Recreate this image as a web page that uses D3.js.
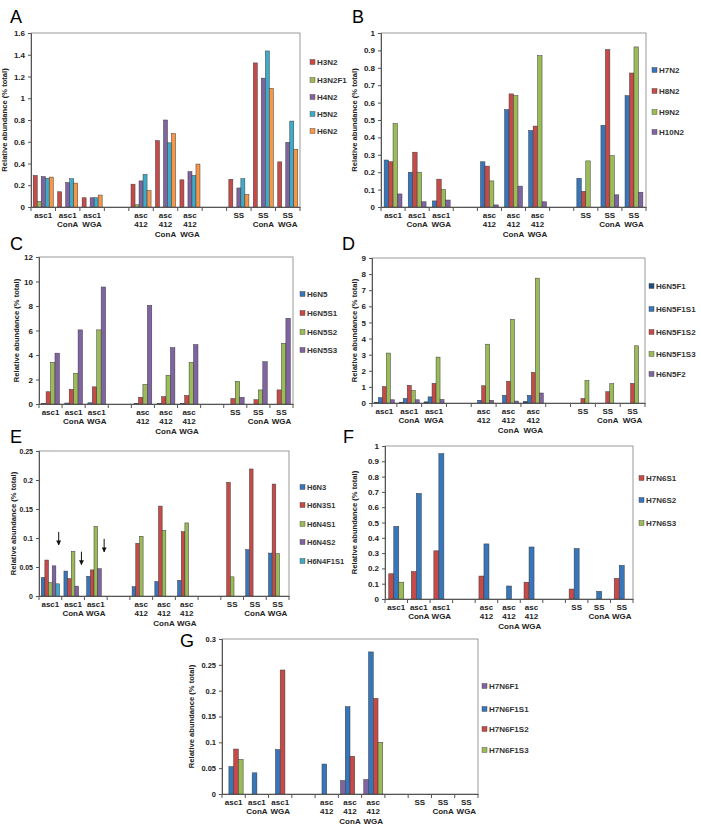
<!DOCTYPE html>
<html><head><meta charset="utf-8">
<script src="https://cdn.jsdelivr.net/npm/d3@7"></script>
<style>body{margin:0;background:#fff} text{font-family:"Liberation Sans",Arial,sans-serif}</style>
</head><body><svg id="c" width="701" height="830"></svg>
<script>
// ---------- data ----------
const categories = ["asc1","asc1 ConA","asc1 WGA","gap1","asc 412","asc 412 ConA","asc 412 WGA","gap2","SS","SS ConA","SS WGA"];
const categoryLines = [["asc1"],["asc1","ConA"],["asc1","WGA"],[],["asc","412"],["asc","412","ConA"],["asc","412","WGA"],[],["SS"],["SS","ConA"],["SS","WGA"]];
const samples = ["asc1","asc1 ConA","asc1 WGA","asc 412","asc 412 ConA","asc 412 WGA","SS","SS ConA","SS WGA"];

// Panel A
const seriesA = ["H3N2","H3N2F1","H4N2","H5N2","H6N2"];
const H3N2   = [0.29,0.14,0.085,0.21,0.61,0.25,0.255,1.325,0.415];
const H3N2F1 = [0.05,0,0,0.02,0,0,0,0,0];
const H4N2   = [0.28,0.225,0.085,0.24,0.80,0.325,0.175,1.185,0.595];
const H5N2   = [0.265,0.26,0.085,0.30,0.59,0.29,0.26,1.435,0.79];
const H6N2   = [0.275,0.22,0.11,0.15,0.675,0.395,0.115,1.09,0.53];
const ticksA = [0,0.2,0.4,0.6,0.8,1,1.2,1.4,1.6];

// Panel B
const seriesB = ["H7N2","H8N2","H9N2","H10N2"];
const H7N2  = [0.27,0.20,0.035,0.26,0.56,0.44,0.165,0.47,0.64];
const H8N2  = [0.26,0.315,0.16,0.235,0.65,0.465,0.09,0.905,0.77];
const H9N2  = [0.48,0.20,0.10,0.15,0.64,0.87,0.265,0.295,0.92];
const H10N2 = [0.075,0.03,0.04,0.012,0.12,0.03,0,0.07,0.085];
const ticksB = [0,0.1,0.2,0.3,0.4,0.5,0.6,0.7,0.8,0.9,1];

// Panel C
const seriesC = ["H6N5","H6N5S1","H6N5S2","H6N5S3"];
const H6N5   = [0.05,0.08,0.1,0.05,0.05,0.05,0,0,0];
const H6N5S1 = [1.0,1.2,1.4,0.55,0.6,0.7,0.45,0.35,1.15];
const H6N5S2 = [3.4,2.5,6.05,1.6,2.35,3.4,1.85,1.15,4.95];
const H6N5S3 = [4.15,6.05,9.55,8.05,4.6,4.85,0.55,3.45,7.0];
const ticksC = [0,2,4,6,8,10,12];

// Panel D
const seriesD = ["H6N5F1","H6N5F1S1","H6N5F1S2","H6N5F1S3","H6N5F2"];
const H6N5F1   = [0.05,0.05,0.07,0,0,0.1,0,0,0];
const H6N5F1S1 = [0.33,0.28,0.38,0.17,0.48,0.48,0,0,0];
const H6N5F1S2 = [1.02,1.1,1.22,1.07,1.35,1.9,0.28,0.7,1.22];
const H6N5F1S3 = [3.1,0.78,2.85,3.65,5.2,7.75,1.4,1.2,3.55];
const H6N5F2   = [0.2,0.2,0.22,0.17,0.12,0.62,0,0,0];
const ticksD = [0,1,2,3,4,5,6,7,8,9];

// Panel E
const seriesE = ["H6N3","H6N3S1","H6N4S1","H6N4S2","H6N4F1S1"];
const H6N3     = [0.032,0.043,0.034,0.016,0.025,0.027,0,0.08,0.074];
const H6N3S1   = [0.062,0.030,0.045,0.091,0.155,0.111,0.196,0.219,0.193];
const H6N4S1   = [0.023,0.077,0.12,0.103,0.113,0.126,0.033,0,0.073];
const H6N4S2   = [0.052,0.017,0.047,0,0,0,0,0,0];
const H6N4F1S1 = [0.021,0,0,0,0,0,0,0,0];
const ticksE = [0,0.05,0.1,0.15,0.2,0.25];
const arrowSamples = ["asc1","asc1 ConA","asc1 WGA"];
const arrowTips = [0.088,0.054,0.076];

// Panel F
const seriesF = ["H7N6S1","H7N6S2","H7N6S3"];
const H7N6S1 = [0.165,0.18,0.315,0.15,0,0.11,0.065,0,0.135];
const H7N6S2 = [0.475,0.69,0.95,0.36,0.085,0.34,0.33,0.05,0.22];
const H7N6S3 = [0.11,0,0,0,0,0,0,0,0];
const ticksF = [0,0.1,0.2,0.3,0.4,0.5,0.6,0.7,0.8,0.9,1];

// Panel G
const seriesG = ["H7N6F1","H7N6F1S1","H7N6F1S2","H7N6F1S3"];
const H7N6F1   = [0,0,0,0,0.026,0.028,0,0,0];
const H7N6F1S1 = [0.053,0.041,0.086,0.058,0.169,0.275,0,0,0];
const H7N6F1S2 = [0.087,0,0.24,0,0.073,0.185,0,0,0];
const H7N6F1S3 = [0.067,0,0,0,0,0.1,0,0,0];
const ticksG = [0,0.05,0.1,0.15,0.2,0.25,0.3];

const yTitle = "Relative abundance (% total)";

// ---------- styles ----------
const RED="#C64B48", GREEN="#9BBB59", PURPLE="#8064A2", TEAL="#3FABC8", ORANGE="#F79646", BLUE="#3776BA", DKBLUE="#1F4E79";

const svg = d3.select("#c");

function panel(cfg){
  const fs = cfg.fs || 8;
  const g = svg.append("g");
  const y = d3.scaleLinear().domain([0, d3.max(cfg.ticks)]).range([cfg.y1, cfg.y0]);
  const x = d3.scaleBand().domain(categories).range([cfg.x0, cfg.x1]).paddingInner(0).paddingOuter(0);
  const xs = d3.scaleBand().domain(cfg.series).range([0, x.bandwidth()]).paddingInner(0).paddingOuter(cfg.po);

  g.append("rect").attr("x",cfg.x0).attr("y",cfg.y0).attr("width",cfg.x1-cfg.x0).attr("height",cfg.y1-cfg.y0)
    .attr("fill","none").attr("stroke","#808080").attr("stroke-width",0.8);

  cfg.series.forEach((s,si)=>{
    const vals = cfg.values[si];
    const data = samples.map((c,i)=>({c, v: vals[i]})).filter(d=>d.v>0);
    g.selectAll(null).data(data).enter().append("rect")
      .attr("x", d=>x(d.c)+xs(s))
      .attr("y", d=>y(d.v))
      .attr("width", xs.bandwidth())
      .attr("height", d=>y(0)-y(d.v))
      .attr("fill", cfg.colors[si])
      .attr("stroke", "#3a3a3a").attr("stroke-width", 0.5);
  });

  const fmt = v => String(+v.toFixed(2));
  const ya = g.append("g").attr("transform",`translate(${cfg.x0},0)`)
    .call(d3.axisLeft(y).tickValues(cfg.ticks).tickSize(3).tickPadding(3).tickFormat(fmt));
  ya.select(".domain").attr("stroke","#555");
  ya.selectAll(".tick line").attr("stroke","#555");
  ya.selectAll("text").attr("font-size",fs).attr("font-weight","bold").attr("fill","#222")
    .attr("font-family",'"Liberation Sans",Arial,sans-serif');

  const xa = g.append("g").attr("transform",`translate(0,${cfg.y1})`)
    .call(d3.axisBottom(x).tickSize(0).tickFormat(""));
  xa.select(".domain").attr("stroke","#555");
  const bounds = categories.map(c=>x(c)).concat([cfg.x1]);
  g.selectAll(null).data(bounds).enter().append("line")
    .attr("x1",d=>d).attr("x2",d=>d).attr("y1",cfg.y1).attr("y2",cfg.y1+4).attr("stroke","#555");
  categories.forEach((c,i)=>{
    const t = g.append("text").attr("text-anchor","middle").attr("font-size",8).attr("font-weight","bold")
      .attr("fill","#222").attr("x", x(c)+x.bandwidth()/2).attr("y", cfg.y1+11);
    categoryLines[i].forEach((ln,j)=>{
      t.append("tspan").attr("x", x(c)+x.bandwidth()/2).attr("dy", j===0?0:9.3).text(ln);
    });
  });

  g.append("text").attr("transform",`translate(${cfg.titleX},${(cfg.y0+cfg.y1)/2}) rotate(-90)`)
    .attr("text-anchor","middle").attr("font-size",7.6).attr("font-weight","bold").attr("fill","#222").text(yTitle);

  g.append("text").attr("x",cfg.lx).attr("y",cfg.ly).attr("font-size",18).attr("fill","#000").text(cfg.letter);

  cfg.series.forEach((s,si)=>{
    const ly = cfg.legY[si];
    g.append("rect").attr("x",cfg.legX).attr("y",ly-2.5).attr("width",5).attr("height",5).attr("fill",cfg.colors[si])
      .attr("stroke","#3a3a3a").attr("stroke-width",0.4);
    g.append("text").attr("x",cfg.legX+7).attr("y",ly+3).attr("font-size",cfg.lfs||8).attr("font-weight","bold").attr("fill","#333").text(s);
  });
  return {x, xs, y, g};
}

panel({letter:"A", lx:10, ly:23, x0:31, x1:300, y0:33, y1:207, ticks:ticksA, po:0.55,
  series:seriesA, values:[H3N2,H3N2F1,H4N2,H5N2,H6N2], colors:[RED,GREEN,PURPLE,TEAL,ORANGE],
  titleX:7, legX:310, legY:[62,80,97,114,131]});

panel({letter:"B", lx:352, ly:23, x0:381, x1:646, y0:33, y1:207, ticks:ticksB, po:0.7,
  series:seriesB, values:[H7N2,H8N2,H9N2,H10N2], colors:[BLUE,RED,GREEN,PURPLE],
  titleX:357, legX:652, legY:[70,91,112,132]});

panel({letter:"C", lx:10, ly:250, x0:39, x1:293, y0:257, y1:404, ticks:ticksC, po:0.6,
  series:seriesC, values:[H6N5,H6N5S1,H6N5S2,H6N5S3], colors:[BLUE,RED,GREEN,PURPLE],
  titleX:19, legX:300, legY:[294,313,332,350]});

panel({letter:"D", lx:342, ly:250, x0:372, x1:645, y0:258, y1:403, ticks:ticksD, po:0.6,
  series:seriesD, values:[H6N5F1,H6N5F1S1,H6N5F1S2,H6N5F1S3,H6N5F2], colors:[DKBLUE,BLUE,RED,GREEN,PURPLE],
  titleX:357, legX:649, legY:[286,309,332,354,374]});

const pE = panel({letter:"E", lx:10, ly:443, x0:39, x1:289, y0:451, y1:596, ticks:ticksE, po:0.6, fs:7, lfs:7.5,
  series:seriesE, values:[H6N3,H6N3S1,H6N4S1,H6N4S2,H6N4F1S1], colors:[BLUE,RED,GREEN,PURPLE,TEAL],
  titleX:16, legX:300, legY:[487,505,524,542,561]});

svg.append("defs").append("marker").attr("id","ah").attr("viewBox","0 0 10 10").attr("refX",9).attr("refY",5)
  .attr("markerWidth",5).attr("markerHeight",5).attr("orient","auto")
  .append("path").attr("d","M0,0 L10,5 L0,10 z").attr("fill","#111");
arrowSamples.forEach((c,i)=>{
  const ax = pE.x(c) + pE.xs("H6N4F1S1") + pE.xs.bandwidth()/2 + 1;
  const tip = pE.y(arrowTips[i]);
  pE.g.append("line").attr("x1",ax).attr("x2",ax).attr("y1",tip-13).attr("y2",tip)
    .attr("stroke","#111").attr("stroke-width",1).attr("marker-end","url(#ah)");
});

panel({letter:"F", lx:343, ly:443, x0:385, x1:633, y0:446, y1:599, ticks:ticksF, po:0.75,
  series:seriesF, values:[H7N6S1,H7N6S2,H7N6S3], colors:[RED,BLUE,GREEN],
  titleX:357, legX:639, legY:[478,500,523]});

panel({letter:"G", lx:180, ly:647, x0:222, x1:478, y0:639, y1:794, ticks:ticksG, po:0.45, fs:7.5,
  series:seriesG, values:[H7N6F1,H7N6F1S1,H7N6F1S2,H7N6F1S3], colors:[PURPLE,BLUE,RED,GREEN],
  titleX:194, legX:482, legY:[686,709,729,750]});
</script></body></html>
